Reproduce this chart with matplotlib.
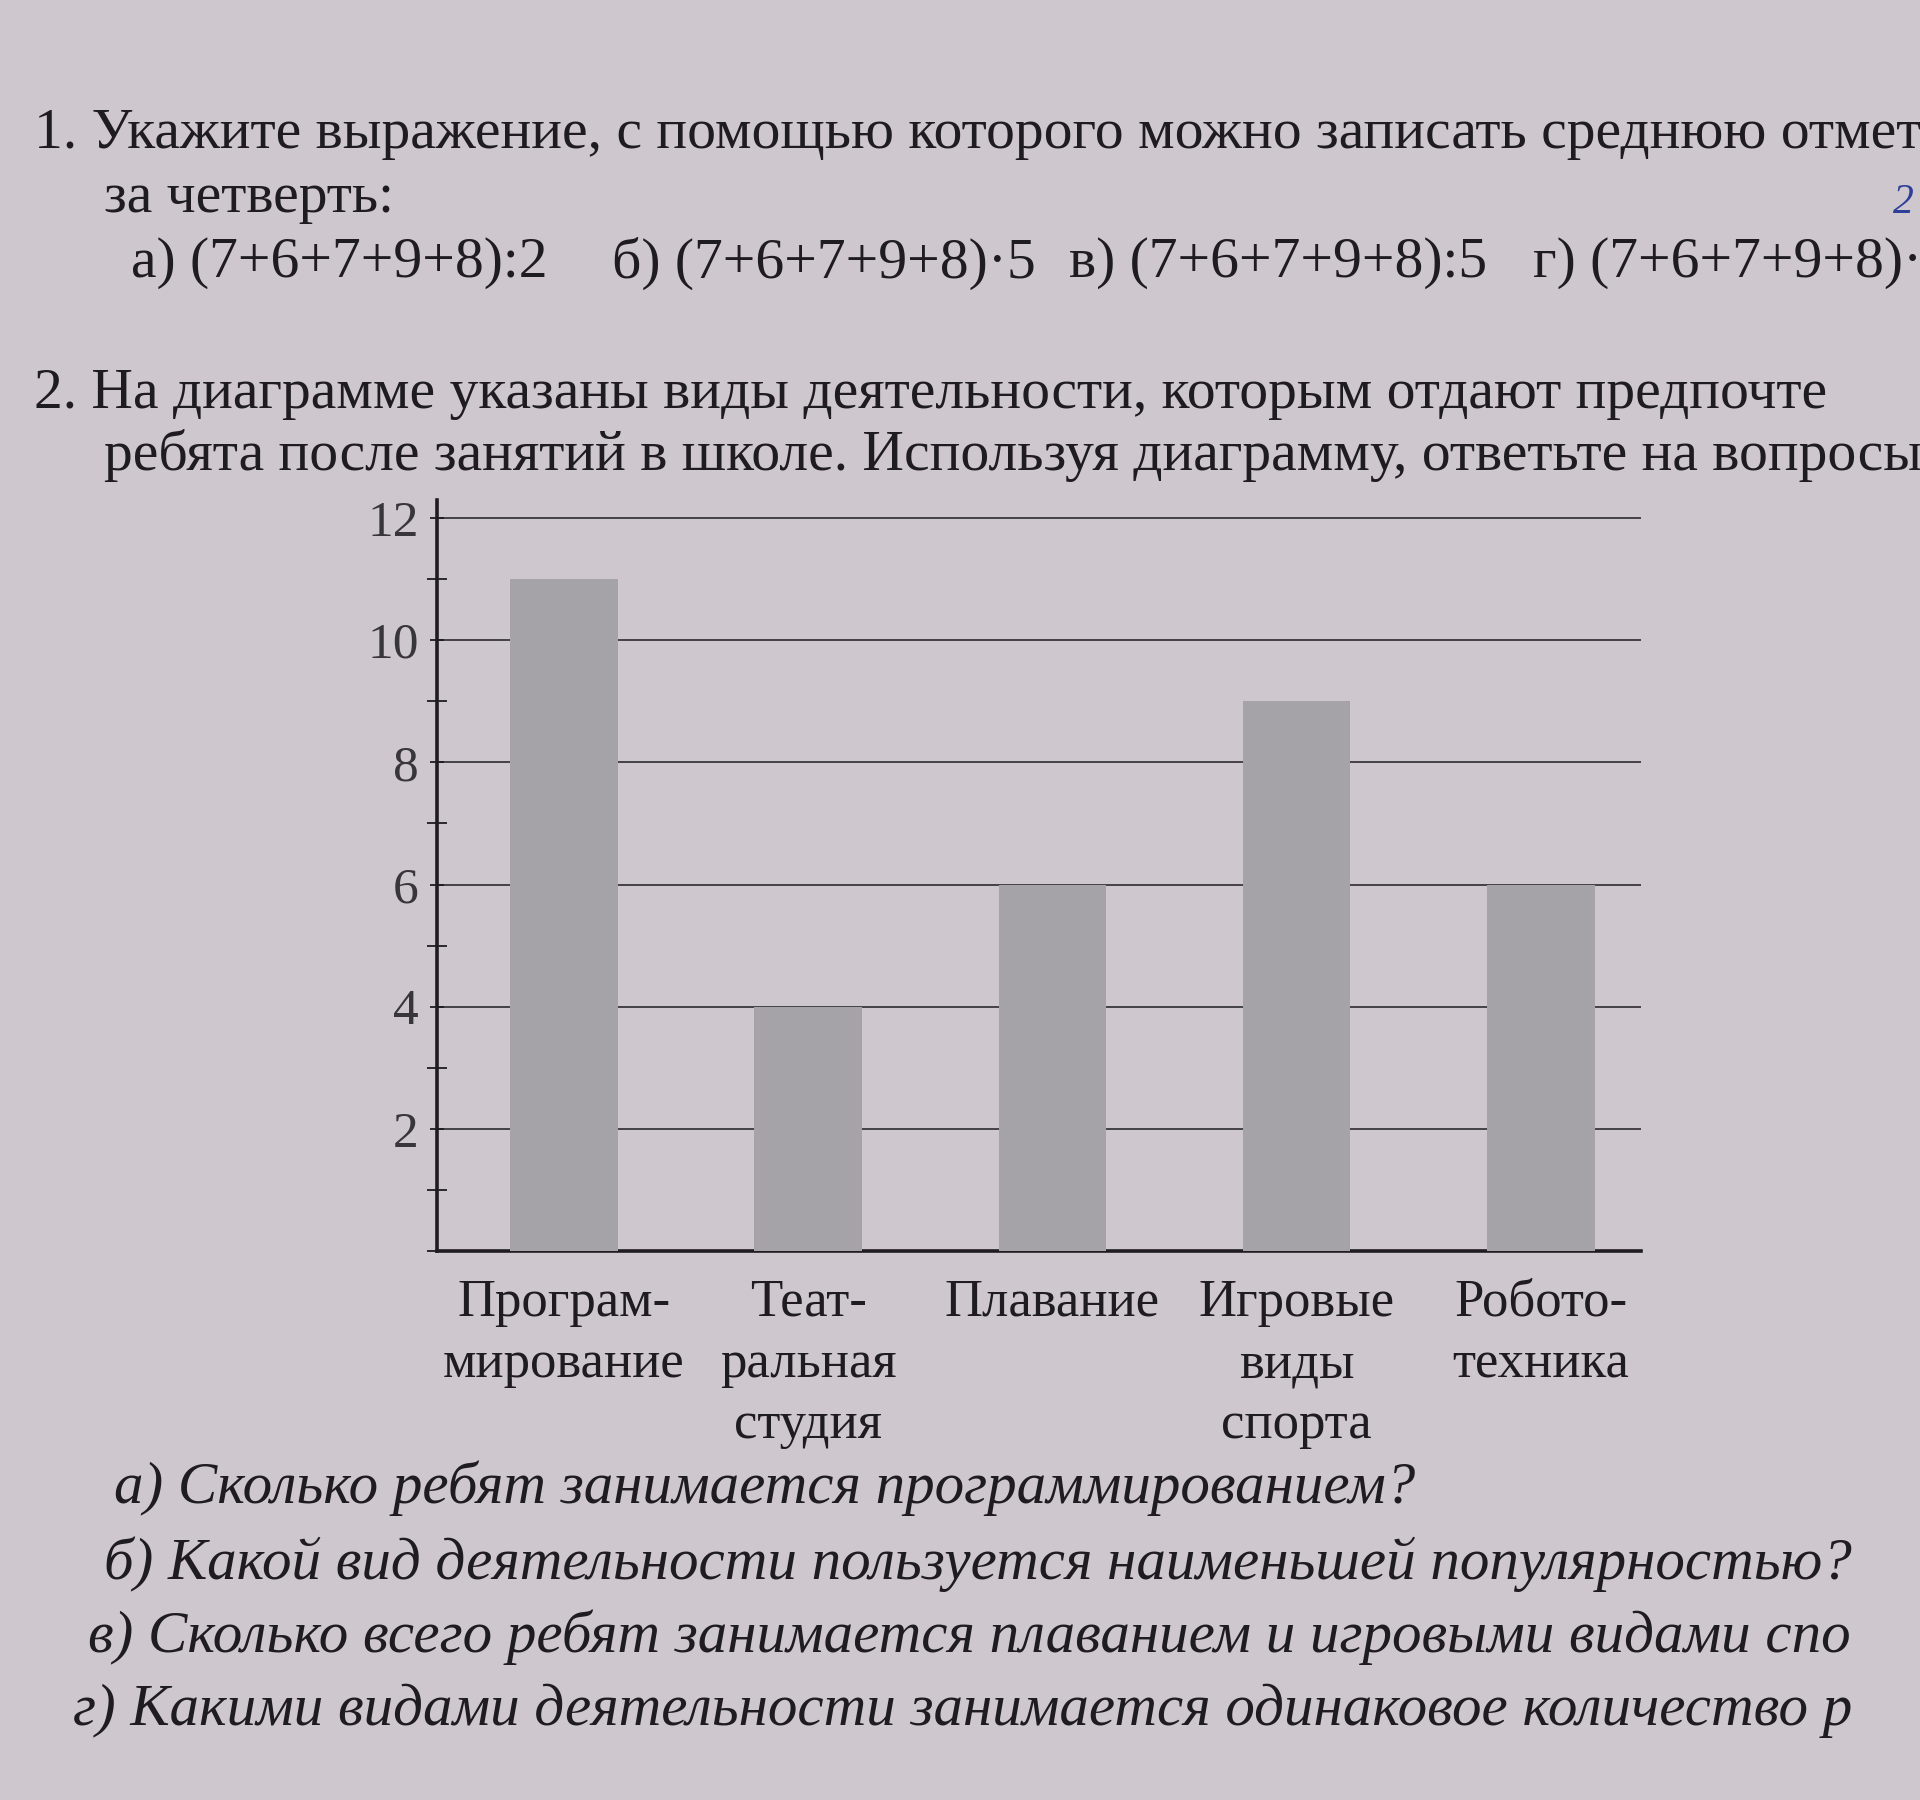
import matplotlib
matplotlib.use("Agg")
import matplotlib.pyplot as plt
from matplotlib.ticker import MultipleLocator

# ---- data ----
categories = ["Програм-\nмирование", "Теат-\nральная\nстудия", "Плавание",
              "Игровые\nвиды\nспорта", "Робото-\nтехника"]
values = [11, 4, 6, 9, 6]
y_ticks = [2, 4, 6, 8, 10, 12]
y_tick_labels = ["2", "4", "6", "8", "10", "12"]

header_lines = [
    "1. Укажите выражение, с помощью которого можно записать среднюю отмет",
    "за четверть:",
]
options = ["а) (7+6+7+9+8):2", "б) (7+6+7+9+8)·5", "в) (7+6+7+9+8):5", "г) (7+6+7+9+8)·"]
task2_lines = [
    "2. На диаграмме указаны виды деятельности, которым отдают предпочте",
    "ребята после занятий в школе. Используя диаграмму, ответьте на вопросы",
]
questions = [
    "а) Сколько ребят занимается программированием?",
    "б) Какой вид деятельности пользуется наименьшей популярностью?",
    "в) Сколько всего ребят занимается плаванием и игровыми видами спо",
    "г) Какими видами деятельности занимается одинаковое количество р",
]

BG = "#cec7ce"
INK = "#1f1c20"
FONT = ["Liberation Serif", "DejaVu Serif"]
plt.rcParams["font.family"] = FONT

W, H = 1920, 1800
fig = plt.figure(figsize=(W / 100, H / 100), dpi=100, facecolor=BG)

def fx(px):
    return px / W

def fy(py):
    return 1 - py / H

# ---- page text ----
HS = 41.5
fig.text(fx(34), fy(134), header_lines[0], fontsize=HS, color=INK, va="center", ha="left")
fig.text(fx(104), fy(198), header_lines[1], fontsize=HS, color=INK, va="center", ha="left")
for x, s in zip([131, 612, 1069, 1533], options):
    fig.text(fx(x), fy(263), s, fontsize=HS, color=INK, va="center", ha="left")
fig.text(fx(34), fy(394), task2_lines[0], fontsize=HS, color=INK, va="center", ha="left")
fig.text(fx(104), fy(455), task2_lines[1], fontsize=HS, color=INK, va="center", ha="left")
fig.text(fx(1893), fy(203), "2", fontsize=30, color="#2e3f9a", va="center", ha="left",
         style="italic")

for (x, y), s in zip([(114, 1488), (104, 1564), (88, 1637), (73, 1711)], questions):
    fig.text(fx(x), fy(y), s, fontsize=42.5, color=INK, va="center", ha="left",
             style="italic")

# ---- chart ----
ax_left, ax_right = 437, 1641
y0_px, y12_px = 1251, 518
ymax = 12.3
top_px = y0_px - (y0_px - y12_px) / 12 * ymax
ax = fig.add_axes([fx(ax_left), fy(y0_px), (ax_right - ax_left) / W,
                   (y0_px - top_px) / H])
ax.set_facecolor("none")

xpos = list(range(len(categories)))
ax.bar(xpos, values, width=0.44, color="#a6a3a8", edgecolor="none", zorder=3)

ax.set_xlim(-0.52, 4.41)
ax.set_ylim(0, ymax)
ax.set_yticks(y_ticks)
ax.set_yticklabels(y_tick_labels)
ax.yaxis.set_minor_locator(MultipleLocator(1))
ax.grid(axis="y", which="major", color="#3a373b", linewidth=1.3, zorder=1)

ax.set_xticks(xpos)
ax.set_xticklabels(categories, fontsize=38, color=INK, linespacing=1.36,
                   multialignment="center")
ax.tick_params(axis="x", length=0, pad=20)
ax.tick_params(axis="y", which="major", direction="inout", length=10, width=1.3,
               labelsize=37, labelcolor="#39363a", pad=8, color=INK)
ax.tick_params(axis="y", which="minor", direction="inout", length=14, width=1.3,
               color=INK)

for side in ["top", "right"]:
    ax.spines[side].set_visible(False)
for side in ["left", "bottom"]:
    ax.spines[side].set_linewidth(2.6)
    ax.spines[side].set_color(INK)

fig.savefig("out.png", dpi=100, facecolor=BG)
